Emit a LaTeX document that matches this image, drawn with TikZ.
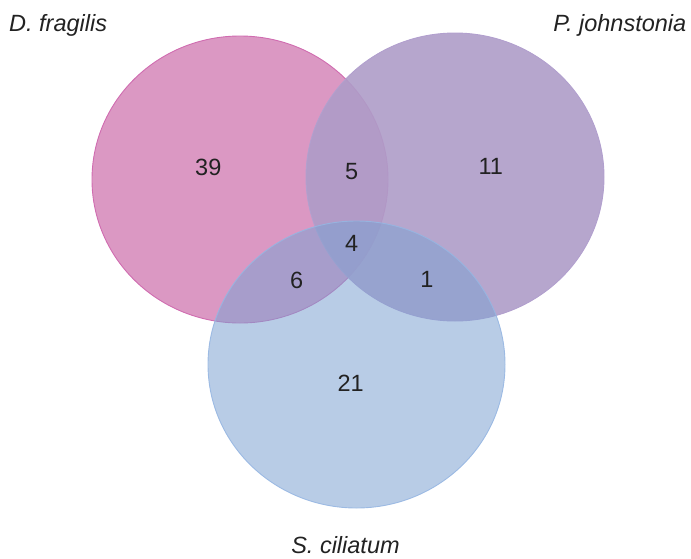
\documentclass[tikz,border=0pt]{standalone}
\usepackage{fontspec}
\setmainfont{Liberation Sans}
\definecolor{pinkD}{RGB}{215,141,189}
\definecolor{pinkDline}{RGB}{208,108,176}
\definecolor{purpleP}{RGB}{174,156,200}
\definecolor{purplePline}{RGB}{178,160,206}
\definecolor{blueS}{RGB}{126,162,210}
\definecolor{blueSline}{RGB}{150,182,226}
\definecolor{numtext}{RGB}{34,34,34}

\begin{document}
\begin{tikzpicture}[x=1pt,y=-1pt,
    setD/.style={fill=pinkD,fill opacity=0.9,draw=pinkDline,line width=0.9pt},
    setP/.style={fill=purpleP,fill opacity=0.9,draw=purplePline,line width=0.9pt},
    setS/.style={fill=blueS,fill opacity=0.55,draw=blueSline,draw opacity=0.9,line width=0.9pt},
    count/.style={text=numtext,font=\fontsize{23.5}{28}\selectfont},
    setname/.style={text=numtext,font=\fontsize{23.5}{28}\selectfont\itshape,inner sep=0pt}]
    \useasboundingbox (0,0) rectangle (691,558);
    % the three sets
    \draw[setD] (240,179.5) ellipse [x radius=148pt, y radius=143.5pt];
    \draw[setP] (455,177) ellipse [x radius=149pt, y radius=144pt];
    \draw[setS] (356.5,364.5) ellipse [x radius=148.5pt, y radius=143.5pt];
    % set names
    \node[setname,anchor=base west] (nameD) at (9,31.7) {D. fragilis};
    \node[setname,anchor=base east] (nameP) at (686.5,31.7) {P. johnstonia};
    \node[setname,anchor=base] (nameS) at (345.5,553.3) {S. ciliatum};
    % counts
    \node[count] (onlyD) at (208.3,167) {39};
    \node[count] (onlyP) at (490.7,166.7) {11};
    \node[count] (onlyS) at (350.7,383.3) {21};
    \node[count] (DP) at (351.7,172) {5};
    \node[count] (DS) at (296.7,280) {6};
    \node[count] (PS) at (427,279.3) {1};
    \node[count] (DPS) at (351.7,243.3) {4};
\end{tikzpicture}
\end{document}
